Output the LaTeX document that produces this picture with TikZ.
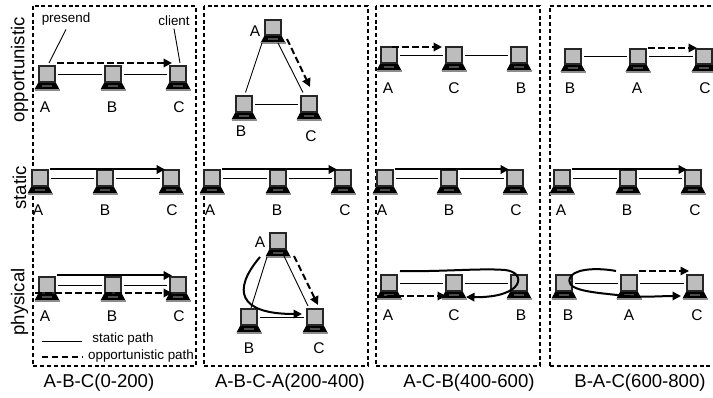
\documentclass[tikz,border=0pt]{standalone}
\usepackage{fontspec}
\setmainfont{Liberation Sans}
\usetikzlibrary{arrows.meta}
\definecolor{scr}{gray}{0.74}
\tikzset{
  x=1pt,y=-1pt,
  panel/.style={draw=black,line width=1.6pt,dash pattern=on 4pt off 2.8pt},
  screen/.style={draw=black!85,fill=scr,line width=1.6pt,minimum width=16.5pt,minimum height=15.5pt,inner sep=0pt,outer sep=1pt},
  link/.style={draw=black,line width=0.9pt},
  solidarrow/.style={draw=black,line width=2pt,-{Triangle[length=8.5pt,width=8.5pt]}},
  dasharrow/.style={draw=black,line width=2pt,dash pattern=on 6.5pt off 3.5pt,-{Triangle[length=8.5pt,width=8.5pt]}},
  curvearrow/.style={draw=black,line width=2pt,-{Triangle[length=8.5pt,width=8.5pt]}},
  lab/.style={inner sep=0pt,font=\fontsize{15.5}{16}\selectfont},
  small/.style={inner sep=0pt,font=\fontsize{13.4}{14}\selectfont},
  big/.style={inner sep=0pt,font=\fontsize{18.6}{19}\selectfont},
}
\newcommand{\lap}[3]{%
  \fill[black] (#2-8.5,#3+8) -- (#2+8.5,#3+8) -- (#2+12.5,#3+15.5) -- (#2-12.5,#3+15.5) -- cycle;
  \fill[black!45] (#2-12.5,#3+15) rectangle (#2+12.5,#3+16.8);
  \fill[black!70] (#2-5,#3+11) rectangle (#2+5,#3+13);
  \node[screen] (#1) at (#2,#3) {};
}
\begin{document}
\begin{tikzpicture}
\useasboundingbox (0,0) rectangle (713,398);
\fill[white] (0,0) rectangle (713,398);
% panels
\draw[panel] (33,6) rectangle (196,366);
\draw[panel] (204,6) rectangle (368,366);
\draw[panel] (376,6) rectangle (540,366);
\draw[panel] (550,366) -- (550,6) -- (713,6);
\draw[panel] (550,366) -- (713,366);
% laptops
\lap{aa}{47}{74}\lap{ab}{113}{74}\lap{ac}{178}{74}
\lap{ba}{273}{27.5}\lap{bb}{244}{104}\lap{bc}{309}{104}
\lap{ca}{389}{55}\lap{cc}{454}{55}\lap{cb}{519}{55}
\lap{db}{573}{56.5}\lap{da}{638}{56.5}\lap{dc}{704}{56.5}
\lap{ea}{40}{178}\lap{eb}{105}{178}\lap{ec}{171}{178}
\lap{fa}{212}{178}\lap{fb}{278}{178}\lap{fc}{343}{178}
\lap{ga}{385}{178}\lap{gb}{449}{178}\lap{gc}{515}{178}
\lap{ha}{562}{178}\lap{hb}{628}{178}\lap{hc}{693}{178}
\lap{ia}{47}{285}\lap{ib}{113}{285}\lap{ic}{178}{285}
\lap{ja}{278}{241}\lap{jb}{249}{317}\lap{jc}{315}{317}
\lap{ka}{389}{283}\lap{kc}{454}{283}\lap{kb}{519}{283}
\lap{lb}{564}{283}\lap{la}{629}{283}\lap{lc}{695}{283}
% plain links
\foreach \u/\v in {aa/ab,ab/ac,bb/bc,ca/cc,cc/cb,db/da,da/dc,ea/eb,eb/ec,fa/fb,fb/fc,ga/gb,gb/gc,ha/hb,hb/hc,ia/ib,ib/ic,jb/jc,ka/kc,kc/kb,lb/la,la/lc}
  \draw[link] ([xshift=2pt]\u.east) -- ([xshift=-2pt]\v.west);
\draw[link] ([shift={(-11,15.5)}]ba.center) -- ([shift={(1.5,-11.5)}]bb.center);
\draw[link] ([shift={(5,15.5)}]ba.center) -- ([shift={(-6,-11.5)}]bc.center);
\draw[link] ([shift={(-11,16)}]ja.center) -- ([shift={(2,-9)}]jb.center);
\draw[link] ([shift={(6,15)}]ja.center) -- ([shift={(-7,-11)}]jc.center);
% arrows: opportunistic row
\draw[dasharrow] ([shift={(10,-11)}]aa.center) -- ([shift={(-6,-11)}]ac.center);
\draw[dasharrow] ([shift={(14,11.5)}]ba.center) -- ([shift={(1,-17)}]bc.center);
\draw[dasharrow] ([shift={(3,-8)}]ca.center) -- ([shift={(-12,-8)}]cc.center);
\draw[dasharrow] ([shift={(10,-8.5)}]da.center) -- ([shift={(-7,-8.5)}]dc.center);
% static row
\foreach \u/\v in {ea/ec,fa/fc,ga/gc,ha/hc}
  \draw[solidarrow] ([shift={(10,-8.5)}]\u.center) -- ([shift={(-6,-8.5)}]\v.center);
% physical row
\draw[solidarrow] ([shift={(10,-9.5)}]ia.center) -- ([shift={(-6,-9.5)}]ic.center);
\draw[dasharrow] ([shift={(-12,8)}]ia.center) -- ([shift={(-6,8)}]ic.center);
\draw[dasharrow] ([shift={(16,15)}]ja.center) -- ([shift={(3,-12)}]jc.center);
\draw[curvearrow] ([shift={(-18,16)}]ja.center) .. controls (232,290) and (238,314) .. ([shift={(-13,-3)}]jc.center);
\draw[dasharrow] ([shift={(-12,13)}]ka.center) -- ([shift={(-8,13)}]kc.center);
\draw[curvearrow] ([shift={(11,-12)}]ka.center) .. controls (440,272) and (480,268) .. (505,270) .. controls (527,272) and (525,298) .. ([shift={(12,14)}]kc.center);
\draw[dasharrow,line width=1.5pt] ([shift={(10,-12)}]la.center) -- ([shift={(-6,-12)}]lc.center);
\draw[curvearrow] ([shift={(-13,-12)}]la.center) .. controls (600,268) and (578,268) .. (571,276) .. controls (562,290) and (590,292) .. (617,295) .. controls (640,298) and (660,296) .. ([shift={(-14,13)}]lc.center);
% callouts
\node[small] (presend) at (66,19) {presend};
\node[small] (client) at (174,20.5) {client};
\draw[link] ([yshift=-4pt]presend.south) -- ([shift={(2,-11)}]aa.center);
\draw[link] ([yshift=-3pt]client.south) -- ([shift={(2,-11)}]ac.center);
% legend
\node[small] (lstatic) at (123,338.7) {static path};
\node[small] (lopp) at (141,355.7) {opportunistic path};
\coordinate (lsa) at (41.6,341.7);\coordinate (lsb) at (82,341.7);
\coordinate (lda) at (41.6,357);\coordinate (ldb) at (82,357);
\draw[link] (lsa) -- (lsb);
\draw[draw=black,line width=2pt,dash pattern=on 6.5pt off 3.5pt] (lda) -- (ldb);
% letters
\foreach \t/\px/\py in {A/45/107,B/112/107,C/179/107,
 A/255/30.7,B/241/131,C/311/136,
 A/388/87.7,C/454/87.7,B/521/87.7,
 B/570/88,A/637/88,C/705/88,
 A/38/210,B/105/210,C/172/210,
 A/210/210,B/277/210,C/345/210,
 A/382/210,B/449/210,C/516/210,
 A/561/210,B/627/210,C/695/210,
 A/45/316,B/112/316,C/179/316,
 A/260/242,B/249/348,C/319/348,
 A/388/315,C/454/315,B/521/315,
 B/568/315,A/629/315,C/697/315}
  \node[lab] at (\px,\py) {\t};
% captions
\node[big] (c1) at (99,383) {A-B-C(0-200)};
\node[big] (c2) at (290,383) {A-B-C-A(200-400)};
\node[big] (c3) at (469,383) {A-C-B(400-600)};
\node[big] (c4) at (640,383) {B-A-C(600-800)};
\node[big,rotate=90] (r1) at (19.5,70) {opportunistic};
\node[big,rotate=90] (r2) at (19.5,188) {static};
\node[big,rotate=90] (r3) at (19.5,302) {physical};
\end{tikzpicture}
\end{document}
